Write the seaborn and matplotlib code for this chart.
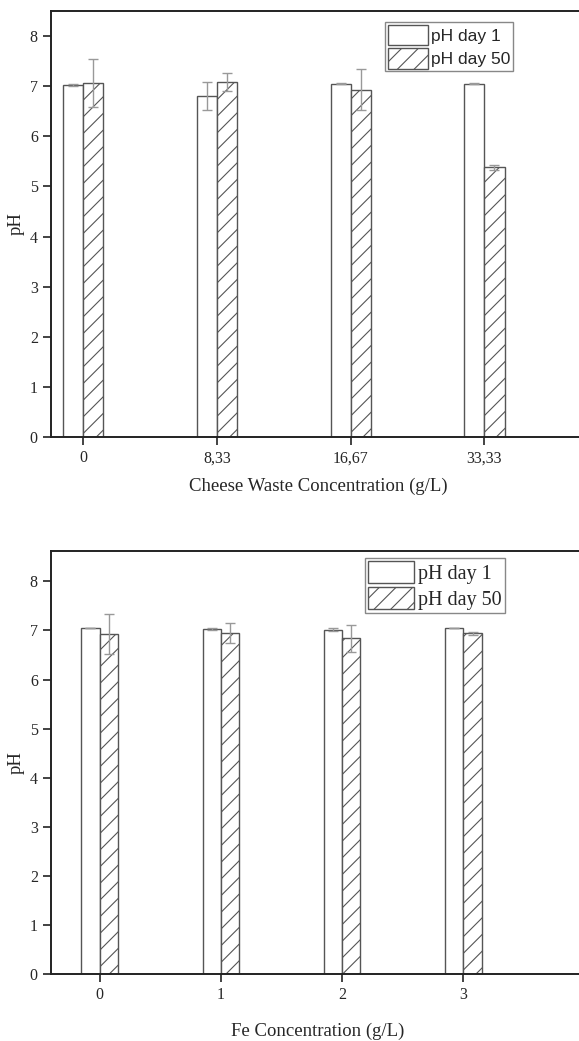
import numpy as np
import pandas as pd
import matplotlib
matplotlib.use("Agg")
import matplotlib.pyplot as plt
import seaborn as sns

# Data
cheese_conc = ["0", "8,33", "16,67", "33,33"]
cheese_day1 = [7.02, 6.80, 7.05, 7.05]
cheese_day1_err = [0.02, 0.28, 0.005, 0.01]
cheese_day50 = [7.07, 7.09, 6.93, 5.38]
cheese_day50_err = [0.48, 0.18, 0.41, 0.05]

fe_conc = ["0", "1", "2", "3"]
fe_day1 = [7.05, 7.04, 7.02, 7.05]
fe_day1_err = [0.005, 0.02, 0.03, 0.005]
fe_day50 = [6.93, 6.95, 6.84, 6.94]
fe_day50_err = [0.41, 0.20, 0.28, 0.03]

series_names = ["pH day 1", "pH day 50"]

sns.set_style("ticks")
plt.rcParams['font.family'] = ['Liberation Serif', 'DejaVu Serif']
plt.rcParams['hatch.color'] = '#666666'
plt.rcParams['hatch.linewidth'] = 0.8


def make_df(conc, d1, d50):
    return pd.DataFrame({
        'conc': conc * 2,
        'pH': d1 + d50,
        'series': [series_names[0]] * len(conc) + [series_names[1]] * len(conc),
    })


def draw_panel(ax, conc, d1, e1, d50, e50, xlabel, xlim, ylim, leg_family, leg_size,
               leg_anchor, hl, hh, labelpad):
    df = make_df(conc, d1, d50)
    sns.barplot(data=df, x='conc', y='pH', hue='series', order=conc,
                hue_order=series_names, palette=['white', 'white'], width=0.3,
                edgecolor='#555555', linewidth=1.0, errorbar=None, ax=ax, zorder=2)
    errs = [e1, e50]
    bar_conts = list(ax.containers)
    for i, cont in enumerate(bar_conts):
        xs = []
        ys = []
        for p in cont.patches:
            if i == 1:
                p.set_hatch('//')
            xs.append(p.get_x() + p.get_width() / 2)
            ys.append(p.get_height())
        ax.errorbar(xs, ys, yerr=errs[i], fmt='none', ecolor='#999999',
                    elinewidth=1.0, capsize=3.5, capthick=1.0, zorder=3)

    ax.set_xlim(*xlim)
    ax.set_ylim(*ylim)
    ax.set_yticks(range(0, 9))
    ax.set_xlabel(xlabel, fontsize=13.5, labelpad=labelpad)
    ax.set_ylabel('pH', fontsize=13.5, labelpad=4)
    ax.tick_params(axis='both', direction='out', length=6, width=1.2,
                   labelsize=11.5, color='#222222')
    for s in ['left', 'bottom', 'top']:
        ax.spines[s].set_linewidth(1.4)
        ax.spines[s].set_color('#222222')
    ax.spines['right'].set_visible(False)

    leg = ax.legend(bar_conts, series_names, loc='upper right', bbox_to_anchor=leg_anchor,
                    fontsize=leg_size, frameon=True, fancybox=False, edgecolor='#888888',
                    framealpha=1, borderpad=0.15, labelspacing=0.15, handletextpad=0.2,
                    handlelength=hl, handleheight=hh, borderaxespad=0)
    for t in leg.get_texts():
        t.set_fontfamily(leg_family)
        t.set_fontsize(leg_size)


fig = plt.figure(figsize=(5.79, 10.41), dpi=100)
ax1 = fig.add_axes([51 / 579, 1 - 437 / 1041, 1 - 51 / 579 + 0.01, 426 / 1041])
ax2 = fig.add_axes([51 / 579, 1 - 974 / 1041, 1 - 51 / 579 + 0.01, 423 / 1041])

draw_panel(ax1, cheese_conc, cheese_day1, cheese_day1_err, cheese_day50, cheese_day50_err,
           'Cheese Waste Concentration (g/L)', (-0.24, 3.75), (0, 8.5),
           ['Liberation Sans', 'DejaVu Sans'], 12.5, (0.866, 0.974), 2.3, 1.45, 8)
draw_panel(ax2, fe_conc, fe_day1, fe_day1_err, fe_day50, fe_day50_err,
           'Fe Concentration (g/L)', (-0.40, 4.0), (0, 8.62),
           ['Liberation Serif', 'DejaVu Serif'], 14.5, (0.85, 0.983), 2.3, 1.3, 14)

fig.savefig('out.png', dpi=100)
